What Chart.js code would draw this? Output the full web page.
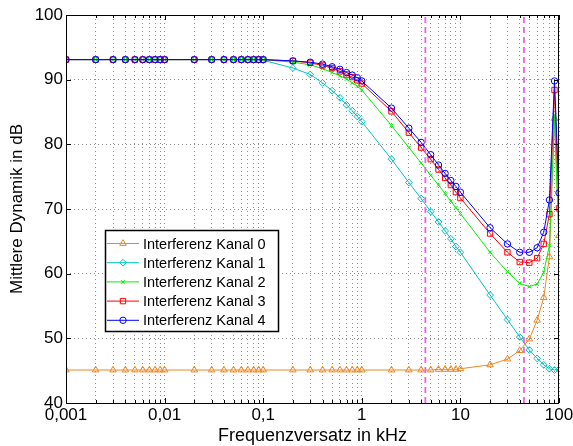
<!DOCTYPE html>
<html>
<head>
<meta charset="utf-8">
<script src="https://cdn.jsdelivr.net/npm/chart.js@4/dist/chart.umd.min.js"></script>
<style>
  html, body { margin: 0; padding: 0; background: #fff; }
  #wrap { width: 573px; height: 446px; }
</style>
</head>
<body>
<div id="wrap"><canvas id="dynChart" width="573" height="446"></canvas></div>
<script>
// frequency offsets in kHz
const freq = [
    0.001, 0.002, 0.003, 0.004, 0.005, 0.006, 0.007, 0.008, 0.009,
    0.01, 0.02, 0.03, 0.04, 0.05, 0.06, 0.07, 0.08, 0.09,
    0.1, 0.2, 0.3, 0.4, 0.5, 0.6, 0.7, 0.8, 0.9,
    1, 2, 3, 4, 5, 6, 7, 8, 9,
    10, 20, 30, 40, 50, 60, 70, 80, 90,
    100
];

const kanal0 = [
    45.1, 45.1, 45.1, 45.1, 45.1, 45.1, 45.1, 45.1, 45.1,
    45.1, 45.1, 45.1, 45.1, 45.1, 45.1, 45.1, 45.1, 45.1,
    45.1, 45.1, 45.1, 45.1, 45.1, 45.1, 45.1, 45.1, 45.1,
    45.1, 45.1, 45.1, 45.1, 45.1, 45.2, 45.2, 45.2, 45.2,
    45.3, 45.9, 46.8, 48.1, 49.9, 52.8, 56.3, 62.6, 84.0,
    65.9
];
const kanal1 = [
    93.1, 93.1, 93.1, 93.1, 93.1, 93.1, 93.1, 93.1, 93.1,
    93.1, 93.1, 93.1, 93.1, 93.1, 93.1, 93.1, 93.1, 93.1,
    93.0, 91.8, 90.8, 89.5, 88.3, 87.2, 86.1, 85.2, 84.3,
    83.5, 77.7, 74.1, 71.6, 69.6, 68.0, 66.6, 65.4, 64.2,
    63.3, 56.7, 52.9, 50.2, 48.2, 46.9, 45.9, 45.3, 45.1,
    45.2
];
const kanal2 = [
    93.1, 93.1, 93.1, 93.1, 93.1, 93.1, 93.1, 93.1, 93.1,
    93.1, 93.1, 93.1, 93.1, 93.1, 93.1, 93.1, 93.1, 93.1,
    93.1, 92.7, 92.3, 91.7, 91.1, 90.6, 90.1, 89.5, 89.0,
    88.4, 82.9, 79.5, 77.1, 75.2, 73.7, 72.4, 71.2, 70.2,
    69.3, 63.3, 60.3, 58.5, 58.0, 58.4, 60.2, 64.4, 84.5,
    64.4
];
const kanal3 = [
    93.1, 93.1, 93.1, 93.1, 93.1, 93.1, 93.1, 93.1, 93.1,
    93.1, 93.1, 93.1, 93.1, 93.1, 93.1, 93.1, 93.1, 93.1,
    93.1, 92.9, 92.6, 92.2, 91.8, 91.3, 90.8, 90.4, 89.9,
    89.4, 85.1, 81.8, 79.5, 77.7, 76.1, 74.8, 73.7, 72.6,
    71.7, 66.2, 63.3, 61.8, 61.7, 62.4, 64.6, 69.2, 88.4,
    70.1
];
const kanal4 = [
    93.1, 93.1, 93.1, 93.1, 93.1, 93.1, 93.1, 93.1, 93.1,
    93.1, 93.1, 93.1, 93.1, 93.1, 93.1, 93.1, 93.1, 93.1,
    93.1, 92.9, 92.7, 92.4, 92.0, 91.6, 91.1, 90.7, 90.3,
    89.8, 85.6, 82.5, 80.3, 78.4, 76.8, 75.5, 74.4, 73.5,
    72.6, 67.1, 64.6, 63.3, 63.3, 64.0, 66.4, 71.4, 89.8,
    72.5
];

const seriesNames = ['Interferenz Kanal 0', 'Interferenz Kanal 1', 'Interferenz Kanal 2',
                     'Interferenz Kanal 3', 'Interferenz Kanal 4'];

// marker lines (4,41 kHz and 44,1 kHz)
const markerFreqs = [4.41, 44.1];

// axis ticks
const majorFreqs = [0.001, 0.01, 0.1, 1, 10, 100];
const xTickLabels = ['0,001', '0,01', '0,1', '1', '10', '100'];
const minorSteps = [2, 3, 4, 5, 6, 7, 8, 9];
const yTicks = [40, 50, 60, 70, 80, 90, 100];

// all x ticks: decades plus 2..9 in between
const xTickValues = [];
majorFreqs.forEach(function (d, i) {
    xTickValues.push(d);
    if (i < majorFreqs.length - 1) {
        minorSteps.forEach(s => xTickValues.push(+(d * s).toPrecision(3)));
    }
});

function pts(values) {
    return freq.map((f, i) => ({ x: f, y: values[i] }));
}

const styles = [
    { color: 'rgb(236,136,36)', point: 'triangle', r: 3.8 },
    { color: 'rgb(0,195,195)', point: 'rectRot', r: 3.4 },
    { color: 'rgb(0,240,0)', point: 'crossRot', r: 2.6 },
    { color: 'rgb(255,0,0)', point: 'rect', r: 3.8 },
    { color: 'rgb(0,0,255)', point: 'circle', r: 3.2 }
];
const allSeries = [kanal0, kanal1, kanal2, kanal3, kanal4];

// frame, inward tick marks and the legend inside the plot
const framePlugin = {
    id: 'framePlugin',
    afterDraw(chart) {
        const ctx = chart.ctx;
        const a = chart.chartArea;
        const xs = chart.scales.x;
        const ys = chart.scales.y;
        ctx.save();
        ctx.strokeStyle = '#000';
        ctx.lineWidth = 1;
        ctx.beginPath();
        xTickValues.forEach(v => {
            const px = Math.round(xs.getPixelForValue(v)) + 0.5;
            const len = majorFreqs.includes(v) ? 5 : 3;
            ctx.moveTo(px, a.bottom); ctx.lineTo(px, a.bottom - len);
            ctx.moveTo(px, a.top); ctx.lineTo(px, a.top + len);
        });
        yTicks.forEach(v => {
            const py = Math.round(ys.getPixelForValue(v)) + 0.5;
            ctx.moveTo(a.left, py); ctx.lineTo(a.left + 5, py);
            ctx.moveTo(a.right, py); ctx.lineTo(a.right - 5, py);
        });
        ctx.stroke();
        ctx.strokeRect(Math.round(a.left) + 0.5, Math.round(a.top) + 0.5,
                       Math.round(a.right - a.left) - 1, Math.round(a.bottom - a.top));

        // legend
        const lx = 105.5, ly = 230.5, lw = 173, lh = 101;
        ctx.fillStyle = '#fff';
        ctx.fillRect(lx, ly, lw, lh);
        ctx.lineWidth = 1.5;
        ctx.strokeRect(lx, ly, lw, lh);
        ctx.font = '14.5px "Liberation Sans", Arial, sans-serif';
        ctx.textBaseline = 'middle';
        ctx.textAlign = 'left';
        seriesNames.forEach((name, i) => {
            const y = 243.5 + i * 19.2;
            const st = styles[i];
            ctx.strokeStyle = st.color;
            ctx.lineWidth = 1;
            ctx.beginPath();
            ctx.moveTo(107, y); ctx.lineTo(139, y);
            ctx.stroke();
            ctx.fillStyle = 'rgba(0,0,0,0)';
            Chart.helpers.drawPoint(ctx, {
                pointStyle: st.point, radius: st.r, borderWidth: 1, rotation: 0
            }, 123, y);
            ctx.fillStyle = '#000';
            ctx.fillText(name, 143, y + 1);
        });
        ctx.restore();
    }
};

function generateDynChart(canvasId) {
    const datasets = allSeries.map((s, i) => ({
        label: seriesNames[i],
        data: pts(s),
        borderColor: styles[i].color,
        backgroundColor: 'rgba(0,0,0,0)',
        pointBackgroundColor: 'rgba(0,0,0,0)',
        pointBorderColor: styles[i].color,
        pointStyle: styles[i].point,
        pointRadius: styles[i].r,
        pointBorderWidth: 1,
        borderWidth: 1,
        tension: 0,
        order: 10 - i
    }));

    markerFreqs.forEach(f => {
        datasets.push({
            label: '',
            data: [{ x: f, y: 40 }, { x: f, y: 100 }],
            borderColor: 'rgb(240,95,240)',
            borderWidth: 1.8,
            borderDash: [6, 4],
            pointRadius: 0,
            order: 0
        });
    });

    const config = {
        type: 'line',
        data: { datasets: datasets },
        options: {
            responsive: false,
            animation: false,
            devicePixelRatio: 1,
            layout: { padding: { top: 15, right: 14, left: 0, bottom: 0 } },
            plugins: {
                legend: { display: false },
                tooltip: { enabled: false }
            },
            scales: {
                x: {
                    type: 'logarithmic',
                    min: 0.001,
                    max: 100,
                    afterBuildTicks: function (scale) {
                        scale.ticks = xTickValues.map(v => ({ value: v, major: majorFreqs.includes(v) }));
                    },
                    afterFit: function (scale) {
                        scale.height = 43;
                        scale.paddingLeft = 0;
                        scale.paddingRight = 0;
                    },
                    ticks: {
                        autoSkip: false,
                        maxRotation: 0,
                        minRotation: 0,
                        padding: 2,
                        color: '#000',
                        font: { size: 17 },
                        callback: function (value) {
                            const k = majorFreqs.indexOf(value);
                            return k >= 0 ? xTickLabels[k] : '';
                        }
                    },
                    grid: { color: 'rgba(0,0,0,0.45)', lineWidth: 1, drawTicks: false },
                    border: { display: false, dash: [1, 3] },
                    title: {
                        display: true,
                        text: 'Frequenzversatz in kHz',
                        color: '#000',
                        font: { size: 18, lineHeight: 1 },
                        padding: { top: 0, bottom: 1 }
                    }
                },
                y: {
                    min: 40,
                    max: 100,
                    afterBuildTicks: function (scale) {
                        scale.ticks = yTicks.map(v => ({ value: v }));
                    },
                    afterFit: function (scale) {
                        scale.width = 66;
                    },
                    ticks: {
                        padding: 3,
                        color: '#000',
                        font: { size: 17 }
                    },
                    grid: { color: 'rgba(0,0,0,0.45)', lineWidth: 1, drawTicks: false },
                    border: { display: false, dash: [1, 3] },
                    title: {
                        display: true,
                        text: 'Mittlere Dynamik in dB',
                        color: '#000',
                        font: { size: 17, lineHeight: 1 },
                        padding: { top: 9, bottom: 0 }
                    }
                }
            }
        },
        plugins: [framePlugin]
    };

    const myChart = new Chart(
        document.getElementById(canvasId),
        config
    );
}

Chart.defaults.font.family = '"Liberation Sans", Arial, Helvetica, sans-serif';
generateDynChart('dynChart');
</script>
</body>
</html>
